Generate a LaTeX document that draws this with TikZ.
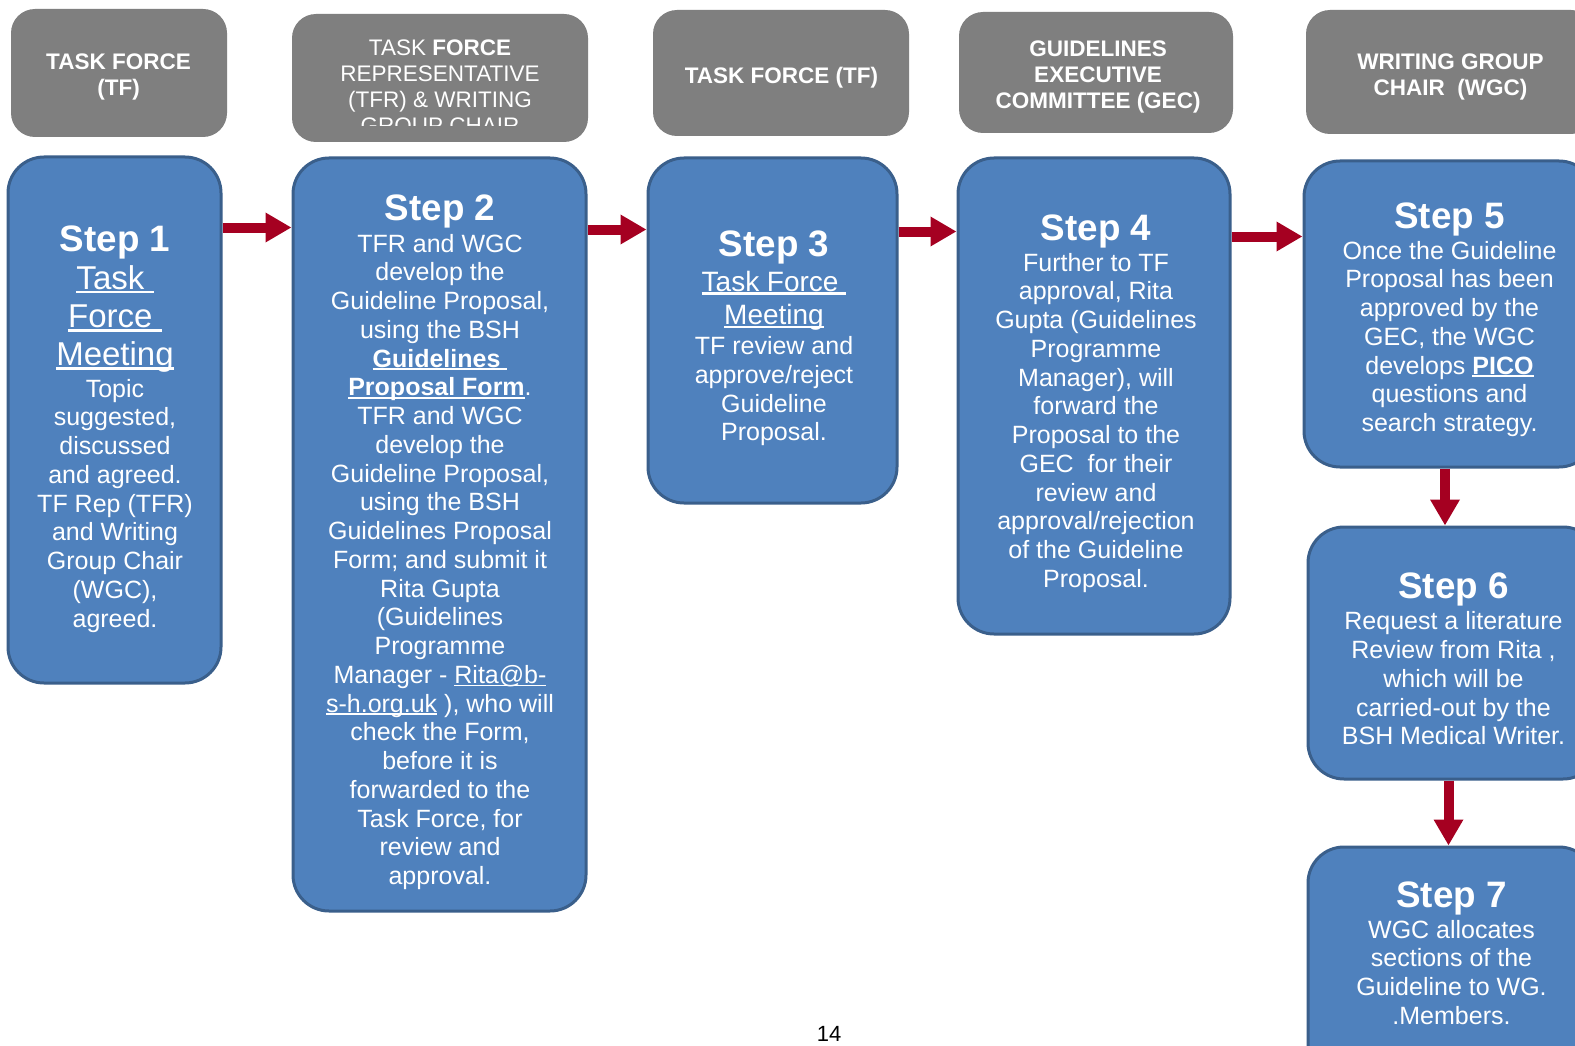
\documentclass[tikz,border=0pt]{standalone}
\usepackage{fontspec}
\setmainfont{Liberation Sans}
\usetikzlibrary{arrows.meta}
\definecolor{stepfill}{HTML}{4F81BD}
\definecolor{stepborder}{HTML}{3A5F8B}
\definecolor{headfill}{HTML}{7F7F7F}
\definecolor{arrowred}{HTML}{A50021}
\lineskiplimit=-1000pt
\newcommand\bodyfont{\fontsize{25}{28.75}\selectfont}
\newcommand\headfont{\fontsize{22.5}{26.2}\selectfont}
\newcommand\ttl[1]{{\fontsize{36.8}{40}\selectfont\bfseries\rule{0pt}{30pt}#1}}
\newcommand\hstrut{\rule{0pt}{20pt}}
\newsavebox\ulbox
\newcommand\myul[1]{\sbox\ulbox{#1}\rlap{\rule[-0.12em]{\wd\ulbox}{0.075em}}\usebox\ulbox}
\tikzset{
  stepbox/.style={draw=stepborder, fill=stepfill, line width=3pt, rounded corners=36pt, inner sep=0pt},
  headbox/.style={fill=headfill, rounded corners=24pt, inner sep=0pt},
  steptext/.style={anchor=north, align=center, text=white, inner sep=0pt, font=\bodyfont},
  headtext/.style={anchor=north, align=center, text=white, inner sep=0pt, font=\headfont},
  flow/.style={draw=arrowred, line width=10pt, -{Triangle[length=26pt,width=28pt]}}
}
\begin{document}
\begin{tikzpicture}[x=1pt,y=-1pt]
\useasboundingbox (0,0) rectangle (1575,1046);
\clip (0,0) rectangle (1575,1046);
\fill[white] (0,0) rectangle (1575,1046);

% header boxes
\node[headbox, minimum width=216pt, minimum height=128pt] (h1) at (119,73) {};
\node[headbox, minimum width=296pt, minimum height=128pt] (h2) at (440,78) {};
\node[headbox, minimum width=256pt, minimum height=126pt] (h3) at (781,73) {};
\node[headbox, minimum width=274pt, minimum height=121pt] (h4) at (1096,72.5) {};
\node[headbox, minimum width=289pt, minimum height=124pt] (h5) at (1450.5,72) {};

\node[headtext] (h1t) at (118.5,49.3) {\bfseries\hstrut TASK FORCE\\\bfseries (TF)};
\begin{scope}
\clip (292,14) rectangle (588,126);
\node[headtext] (h2t) at (440,35.2) {\hstrut TASK \textbf{FORCE}\\REPRESENTATIVE\\(TFR) \& WRITING\\GROUP CHAIR};
\end{scope}
\node[headtext] (h3t) at (781.5,63.3) {\bfseries\hstrut TASK FORCE (TF)};
\node[headtext] (h4t) at (1098,36.2) {\bfseries\hstrut GUIDELINES\\\bfseries EXECUTIVE\\\bfseries COMMITTEE (GEC)};
\node[headtext] (h5t) at (1450.5,49.3) {\bfseries\hstrut WRITING GROUP\\\bfseries CHAIR\ \ (WGC)};

% step boxes
\node[stepbox, minimum width=213pt, minimum height=526pt] (s1) at (114.5,420) {};
\node[stepbox, minimum width=293pt, minimum height=753pt] (s2) at (439.5,534.5) {};
\node[stepbox, minimum width=249pt, minimum height=345pt] (s3) at (772.5,330.5) {};
\node[stepbox, minimum width=272pt, minimum height=476pt] (s4) at (1094,396) {};
\node[stepbox, minimum width=291pt, minimum height=306pt] (s5) at (1449.5,314) {};
\node[stepbox, minimum width=291pt, minimum height=252pt] (s6) at (1453.5,653) {};
\node[stepbox, minimum width=287pt, minimum height=248pt] (s7) at (1451.5,971) {};

% step texts
\node[steptext] (t1) at (115,221) {\ttl{Step 1}\\[9.5pt]
{\fontsize{33}{38}\selectfont\myul{Task\ }}\\[9.5pt]
{\fontsize{33}{38}\selectfont\myul{Force\ }}\\[9.5pt]
{\fontsize{33}{38}\selectfont\myul{Meeting}}\\[2.4pt]
Topic\\ suggested,\\ discussed\\ and agreed.\\ TF Rep (TFR)\\ and Writing\\ Group Chair\\ (WGC),\\ agreed.};

\node[steptext] (t2) at (440,190) {\ttl{Step 2}\\[3.25pt]
TFR and WGC\\
develop the\\
Guideline Proposal,\\
using the BSH\\
\myul{\textbf{Guidelines\ }}\\
\myul{\textbf{Proposal Form}}.\\
TFR and WGC\\
develop the\\
Guideline Proposal,\\
using the BSH\\
Guidelines Proposal\\
Form; and submit it\\
Rita Gupta\\
(Guidelines\\
Programme\\
Manager - \myul{Rita@b-}\\
\myul{s-h.org.uk} ), who will\\
check the Form,\\
before it is\\
forwarded to the\\
Task Force, for\\
review and\\
approval.};

\node[steptext] (t3) at (774,226) {\ttl{Step 3}\\[6.25pt]
{\fontsize{28}{33}\selectfont\myul{Task Force\ }}\\[4.65pt]
{\fontsize{28}{33}\selectfont\myul{Meeting}}\\[1.35pt]
TF review and\\
approve/reject\\
Guideline\\
Proposal.};

\node[steptext] (t4) at (1096,210) {\ttl{Step 4}\\[2.25pt]
Further to TF\\
approval, Rita\\
Gupta (Guidelines\\
Programme\\
Manager), will\\
forward the\\
Proposal to the\\
GEC\ \ for their\\
review and\\
approval/rejection\\
of the Guideline\\
Proposal.};

\node[steptext] (t5) at (1449.5,198) {\ttl{Step 5}\\[2.25pt]
Once the Guideline\\
Proposal has been\\
approved by the\\
GEC, the WGC\\
develops \myul{\textbf{PICO}}\\
questions and\\
search strategy.};

\node[steptext] (t6) at (1453.5,568.6) {\ttl{Step 6}\\[2.25pt]
Request a literature\\
Review from Rita ,\\
which will be\\
carried-out by the\\
BSH Medical Writer.};

\node[steptext] (t7) at (1451.5,877) {\ttl{Step 7}\\[2.25pt]
WGC allocates\\
sections of the\\
Guideline to WG.\\
.Members.};

% connectors
\coordinate (a1) at ([yshift=-72pt]s1.north east);
\draw[flow] (a1) -- (a1 -| s2.west);
\coordinate (a2) at ([yshift=-73pt]s2.north east);
\draw[flow] (a2) -- (a2 -| s3.west);
\coordinate (a3) at ([yshift=-75pt]s3.north east);
\draw[flow] (a3) -- (a3 -| s4.west);
\coordinate (a4) at ([yshift=-80pt]s4.north east);
\draw[flow] (a4) -- (a4 -| s5.west);
\coordinate (a5) at ([xshift=-4.5pt]s5.south);
\draw[flow] (a5) -- (a5 |- s6.north);
\coordinate (a6) at ([xshift=-5pt]s6.south);
\draw[flow] (a6) -- (a6 |- s7.north);

% page number
\node[inner sep=0pt] (pg) at (829,1034) {\fontsize{22}{25}\selectfont 14};
\end{tikzpicture}
\end{document}
